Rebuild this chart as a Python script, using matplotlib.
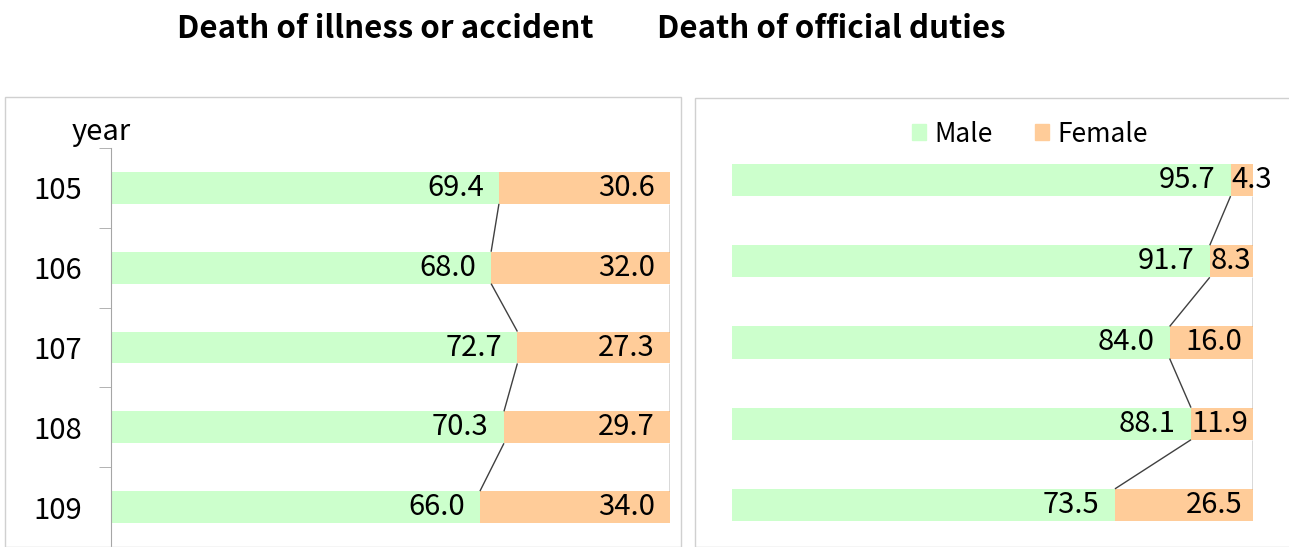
import matplotlib
matplotlib.use("Agg")
from matplotlib import pyplot as plt
from matplotlib.patches import Rectangle, Patch

plt.rcParams['font.family'] = ['Noto Sans CJK TC', 'DejaVu Sans']

years = ['105', '106', '107', '108', '109']
series = ['Male', 'Female']

illness_male = [69.4, 68.0, 72.7, 70.3, 66.0]
illness_female = [30.6, 32.0, 27.3, 29.7, 34.0]

duty_male = [95.7, 91.7, 84.0, 88.1, 73.5]
duty_female = [4.3, 8.3, 16.0, 11.9, 26.5]

titles = ['Death of illness or accident', 'Death of official duties']

GREEN = '#ccffcc'
ORANGE = '#ffcc99'
LINE = '#404040'
FS = 21

W, H = 1289, 547
fig = plt.figure(figsize=(W / 100, H / 100), dpi=100)


def px(x0, y0, x1, y1):
    # pixel box (top-left origin) -> figure fraction rect
    return [x0 / W, 1 - y1 / H, (x1 - x0) / W, (y1 - y0) / H]


def stacked(ax, male, female, height, pad_f):
    pos = list(range(len(male)))
    ax.barh(pos, male, height=height, color=GREEN, label=series[0])
    ax.barh(pos, female, left=male, height=height, color=ORANGE, label=series[1])

    # series lines between neighbouring bars
    for i in range(len(male) - 1):
        for end_a, end_b in [(male[i], male[i + 1]),
                             (male[i] + female[i], male[i + 1] + female[i + 1])]:
            ax.plot([end_a, end_b], [i + height / 2, i + 1 - height / 2],
                    color=LINE, lw=1, solid_capstyle='butt')

    for i in pos:
        ax.annotate(f'{male[i]:.1f}', (male[i], i), xytext=(-11, 0),
                    textcoords='offset points', ha='right', va='center',
                    fontsize=FS)
        if female[i] < 14:
            ax.annotate(f'{female[i]:.1f}', (male[i], i), xytext=(0.5, 0),
                        textcoords='offset points', ha='left', va='center',
                        fontsize=FS)
        else:
            ax.annotate(f'{female[i]:.1f}', (male[i] + female[i], i),
                        xytext=(-pad_f, 0), textcoords='offset points',
                        ha='right', va='center', fontsize=FS)

    ax.set_xlim(0, 100)
    ax.set_ylim(len(male) - 0.5, -0.5)
    ax.set_xticks([])
    for s in ['top', 'right', 'bottom']:
        ax.spines[s].set_visible(False)


# panel frames
fig.patches.append(Rectangle((4.5 / W, 0), (681 - 4.5) / W, 1 - 97 / H,
                             transform=fig.transFigure, fill=False,
                             edgecolor='#d0d0d0', lw=1, clip_on=False))
fig.patches.append(Rectangle((694.5 / W, 0), (W + 5 - 694.5) / W, 1 - 98 / H,
                             transform=fig.transFigure, fill=False,
                             edgecolor='#d0d0d0', lw=1, clip_on=False))

# left: illness or accident
axL = fig.add_axes(px(111, 148, 670, 547))
stacked(axL, illness_male, illness_female, 0.4, 11)
axL.spines['left'].set_color('#a6a6a6')
axL.set_yticks(range(len(years)))
axL.set_yticklabels(years, fontsize=FS)
axL.set_yticks([i - 0.5 for i in range(len(years) + 1)], minor=True)
axL.tick_params(axis='y', which='major', length=0, pad=21)
axL.tick_params(axis='y', which='minor', length=9, color='#a6a6a6')
fig.text(101 / W, 1 - 132 / H, 'year', ha='center', va='center', fontsize=FS)

# right: official duties
axR = fig.add_axes(px(732, 139.5, 1253, 545.5))
stacked(axR, duty_male, duty_female, 0.395, 7.5)
axR.spines['left'].set_visible(False)
axR.set_yticks([])

handles = [Patch(color=GREEN), Patch(color=ORANGE)]
fig.legend(handles, series, loc='center', ncol=2, frameon=False,
           bbox_to_anchor=((920 + 1139) / 2 / W, 1 - 134 / H), fontsize=19,
           handlelength=0.55, handleheight=0.55, handletextpad=0.3,
           columnspacing=1.6, borderpad=0, borderaxespad=0)

fig.text(385 / W, 1 - 29 / H, titles[0], ha='center', va='center',
         fontsize=22.5, fontweight='bold')
fig.text(831 / W, 1 - 29 / H, titles[1], ha='center', va='center',
         fontsize=22.5, fontweight='bold')

fig.savefig('out.png', dpi=100)
